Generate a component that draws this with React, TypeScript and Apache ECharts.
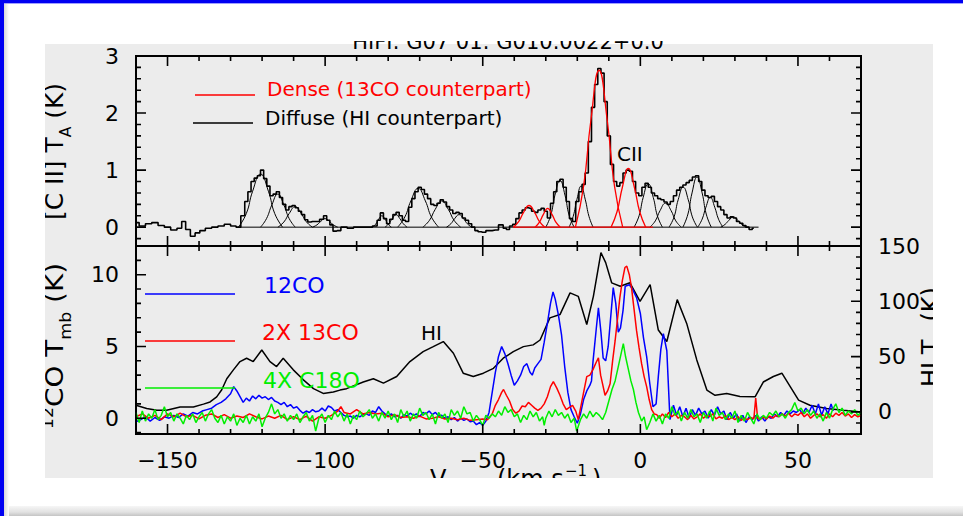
import React, { useEffect, useRef } from 'react';
import * as echarts from 'echarts';

const FONT = '"DejaVu Sans"';

// ---- ticks ----
const velMajorTicks = [-150, -100, -50, 0, 50];
const velMinorTicks = [-160, -150, -140, -130, -120, -110, -100, -90, -80, -70, -60, -50, -40, -30, -20, -10, 0, 10, 20, 30, 40, 50, 60, 70];
const ciiMajorTicks = [0, 1, 2, 3];
const ciiMinorTicks = [-0.2, 0, 0.2, 0.4, 0.6, 0.8, 1, 1.2, 1.4, 1.6, 1.8, 2, 2.2, 2.4, 2.6, 2.8, 3];
const coMajorTicks = [0, 5, 10];
const coMinorTicks = [-1, 0, 1, 2, 3, 4, 5, 6, 7, 8, 9, 10, 11, 12];
const hiMajorTicks = [0, 50, 100, 150];
const hiMinorTicks = [-20, -10, 0, 10, 20, 30, 40, 50, 60, 70, 80, 90, 100, 110, 120, 130, 140, 150];

// ---- [C II] spectrum (V, T_A) ----
const ciiSpectrum: [number, number][] = [
  [-160, 0.08], [-158, 0.02], [-156, 0.06], [-154, 0.08], [-152, 0.03], [-150, 0.0], [-148, -0.05], [-146, -0.02],
  [-145, 0.1], [-143.5, -0.04], [-142, -0.16], [-140.5, -0.1], [-139, -0.06], [-137, -0.02], [-135, 0.0], [-133, 0.02],
  [-131, 0.05], [-129, 0.02], [-127.5, 0.0], [-126, 0.2], [-125, 0.45], [-124, 0.62], [-123, 0.8], [-122, 0.86],
  [-121, 0.9], [-120, 1.0], [-119, 0.85], [-118, 0.72], [-117, 0.55], [-116, 0.58], [-115, 0.62], [-114, 0.52],
  [-113, 0.4], [-112, 0.3], [-111, 0.36], [-110, 0.38], [-109, 0.34], [-108, 0.28], [-107, 0.22], [-106, 0.13],
  [-105, 0.09], [-104, 0.1], [-102.5, 0.1], [-101, 0.14], [-100, 0.2], [-99, 0.12], [-98, 0.04], [-97, -0.07],
  [-96, -0.06], [-94, 0.0], [-92, -0.02], [-90, 0.0], [-88, 0.0], [-86, 0.0], [-84, 0.02], [-83, 0.12], [-82, 0.25],
  [-81, 0.15], [-80, 0.06], [-79, 0.14], [-78, 0.22], [-77, 0.26], [-76, 0.2], [-75, 0.12], [-74, 0.1], [-73, 0.35],
  [-72, 0.5], [-71, 0.62], [-70, 0.7], [-69, 0.66], [-68, 0.58], [-67, 0.5], [-66, 0.4], [-65, 0.38], [-64, 0.42],
  [-63, 0.48], [-62, 0.44], [-61, 0.36], [-60, 0.3], [-59, 0.24], [-58, 0.26], [-57, 0.24], [-56, 0.16], [-55, 0.12],
  [-54, 0.06], [-53, 0.0], [-52, -0.06], [-51, -0.08], [-50, -0.09], [-48, -0.06], [-46, -0.05], [-44, 0.04],
  [-43, -0.02], [-42, -0.04], [-41, 0.02], [-40, 0.05], [-39, 0.15], [-38, 0.25], [-37, 0.3], [-36, 0.34], [-35, 0.33],
  [-34, 0.28], [-33, 0.26], [-32, 0.3], [-31, 0.33], [-30, 0.28], [-29, 0.16], [-28, 0.42], [-27, 0.62], [-26, 0.8],
  [-25, 0.84], [-24, 0.7], [-23, 0.45], [-22, 0.15], [-21, 0.1], [-20, 0.45], [-19, 0.62], [-18, 0.75], [-17, 0.95],
  [-16, 1.5], [-15, 2.1], [-14, 2.5], [-13, 2.78], [-12, 2.7], [-11, 2.2], [-10, 1.6], [-9, 1.1], [-8, 0.8], [-7, 0.72],
  [-6, 0.78], [-5, 0.95], [-4, 1.0], [-3, 0.98], [-2, 0.8], [-1, 0.6], [0, 0.55], [1, 0.7], [2, 0.77], [3, 0.7],
  [4, 0.6], [5, 0.55], [6, 0.5], [7, 0.48], [8, 0.44], [9, 0.4], [10, 0.45], [11, 0.55], [12, 0.65], [13, 0.7],
  [14, 0.74], [15, 0.78], [16, 0.82], [17, 0.88], [18, 0.9], [19, 0.8], [20, 0.65], [21, 0.55], [22, 0.52], [23, 0.54],
  [24, 0.45], [25, 0.36], [26, 0.3], [27, 0.22], [28, 0.16], [29, 0.18], [30, 0.16], [31, 0.1], [32, 0.07], [33, 0.03],
  [34, 0.0], [35, -0.04], [36, -0.02],
];

// ---- Gaussian components ----
const diffuseFits: [number, number][][] = [
  [[-127.5, 0], [-125, 0.24], [-123, 0.63], [-120.5, 0.93], [-118, 0.63], [-116, 0.24], [-113.5, 0]],
  [[-120.5, 0], [-118.6, 0.15], [-116.9, 0.39], [-115, 0.58], [-113.1, 0.39], [-111.4, 0.15], [-109.5, 0]],
  [[-115, 0], [-113.1, 0.09], [-111.4, 0.24], [-109.5, 0.36], [-107.6, 0.24], [-105.9, 0.09], [-104, 0]],
  [[-104, 0], [-102.6, 0.04], [-101.4, 0.1], [-100, 0.15], [-98.6, 0.1], [-97.4, 0.04], [-96, 0]],
  [[-85, 0], [-84, 0.05], [-83, 0.14], [-82, 0.2], [-81, 0.14], [-80, 0.05], [-79, 0]],
  [[-81, 0], [-79.8, 0.06], [-78.7, 0.15], [-77.5, 0.22], [-76.3, 0.15], [-75.2, 0.06], [-74, 0]],
  [[-77, 0], [-74.7, 0.18], [-72.8, 0.46], [-70.5, 0.68], [-68.2, 0.46], [-66.3, 0.18], [-64, 0]],
  [[-69, 0], [-66.9, 0.12], [-65.1, 0.31], [-63, 0.46], [-60.9, 0.31], [-59.1, 0.12], [-57, 0]],
  [[-61.5, 0], [-60.1, 0.06], [-58.9, 0.15], [-57.5, 0.22], [-56.1, 0.15], [-54.9, 0.06], [-53.5, 0]],
  [[-30, 0], [-28.4, 0.21], [-27.1, 0.56], [-25.5, 0.82], [-23.9, 0.56], [-22.6, 0.21], [-21, 0]],
  [[-22.6, 0], [-21.3, 0.19], [-20.1, 0.49], [-18.8, 0.72], [-17.5, 0.49], [-16.3, 0.19], [-15, 0]],
  [[-2, 0], [-0.4, 0.2], [0.9, 0.52], [2.5, 0.76], [4.1, 0.52], [5.4, 0.2], [7, 0]],
  [[3, 0], [4.75, 0.11], [6.25, 0.29], [8, 0.42], [9.75, 0.29], [11.25, 0.11], [13, 0]],
  [[9.1, 0], [10.7, 0.18], [12, 0.48], [13.6, 0.7], [15.2, 0.48], [16.5, 0.18], [18.1, 0]],
  [[13.5, 0], [15.1, 0.23], [16.4, 0.6], [18, 0.88], [19.6, 0.6], [20.9, 0.23], [22.5, 0]],
  [[18.2, 0], [19.6, 0.14], [20.8, 0.35], [22.2, 0.52], [23.6, 0.35], [24.8, 0.14], [26.2, 0]],
  [[25.5, 0], [26.9, 0.05], [28.1, 0.12], [29.5, 0.18], [30.9, 0.12], [32.1, 0.05], [33.5, 0]],
];
const denseFits: [number, number][][] = [
  [[-40.3, 0], [-38.55, 0.1], [-37.05, 0.26], [-35.3, 0.38], [-33.55, 0.26], [-32.05, 0.1], [-30.3, 0]],
  [[-33.4, 0], [-32, 0.09], [-30.8, 0.22], [-29.4, 0.33], [-28, 0.22], [-26.8, 0.09], [-25.4, 0]],
  [[-20.6, 0], [-18, 0.72], [-15.7, 1.87], [-13.1, 2.75], [-10.5, 1.87], [-8.2, 0.72], [-5.6, 0]],
  [[-9.3, 0], [-7.4, 0.27], [-5.7, 0.7], [-3.8, 1.03], [-1.9, 0.7], [-0.2, 0.27], [1.7, 0]],
];
const diffuseBaseline: [number, number][] = [[-127.5, 0], [37.5, 0]];
const denseBaseline: [number, number][] = [[-40.3, 0], [4, 0]];

// ---- HI brightness temperature (right axis) ----
const hiSpectrum: [number, number][] = [
  [-160, 6], [-156.6, 3], [-153.4, 1.5], [-150.3, 1.5], [-146, 4.5], [-141.8, 4.5], [-138.6, 7], [-136.5, 9],
  [-134.4, 13.6], [-132.8, 20], [-131.2, 30], [-129.1, 38], [-127, 45.5], [-124.9, 48.5], [-122.8, 45.5],
  [-120.1, 56], [-117.5, 45.5], [-115.4, 41], [-113.3, 48.5], [-110.1, 38], [-106.9, 29], [-103.7, 21],
  [-100.6, 16.7], [-97.4, 18], [-95.3, 19.7], [-93.2, 21], [-87.9, 27], [-84.7, 30], [-81.5, 26], [-77.3, 32],
  [-73.1, 45.5], [-68.9, 54.5], [-65.7, 59], [-62.5, 63.6], [-59.3, 53], [-56.2, 35], [-53, 32], [-49.8, 35],
  [-46.6, 39.4], [-43.5, 48.5], [-40.3, 54.5], [-37.1, 59], [-34, 60.6], [-31.8, 65], [-28.7, 85], [-25.5, 88],
  [-22.3, 107.6], [-19.7, 104.5], [-17, 79], [-14.9, 104.5], [-12.5, 144], [-11, 135], [-9.1, 116.7],
  [-6.4, 113.6], [-3.3, 116.7], [-0.1, 100], [3.1, 115], [5.7, 74], [8.4, 63.6], [11.7, 101.5], [14.7, 80],
  [17.9, 47], [21.1, 19.7], [23.7, 15], [27.4, 16.7], [31.6, 14], [36.4, 13.6], [39, 27], [42.2, 32], [44.9, 35],
  [47.5, 23], [50.2, 10.6], [53.8, 6], [59.1, 3], [64.4, 1.5], [70, 0],
];

// ---- 12CO ----
const co12: [number, number][] = [
  [-160, -0.25], [-158.5, -0.1], [-157, 0.1], [-155.5, -0.2], [-154, 0.05], [-152.5, -0.15], [-151, 0.1], [-149.5, 0.0],
  [-148, 0.2], [-146.5, 0.05], [-145, 0.3], [-143.5, 0.15], [-142, 0.4], [-140.5, 0.3], [-139, 0.5], [-137.5, 0.6],
  [-136, 0.7], [-134.5, 0.95], [-133, 1.1], [-131.5, 1.35], [-130, 1.7], [-129, 2.2], [-128, 1.9], [-127, 1.5],
  [-126, 1.1], [-125, 1.4], [-124, 1.2], [-123, 1.55], [-122, 1.35], [-121, 1.6], [-120, 1.4], [-119, 1.5], [-118, 1.3],
  [-117, 1.45], [-116, 1.2], [-115, 1.1], [-114, 0.95], [-113, 1.1], [-112, 0.8], [-111, 0.95], [-110, 0.7], [-109, 0.8],
  [-108, 0.55], [-107, 0.35], [-106, 0.5], [-105, 0.4], [-104, 0.6], [-103, 0.45], [-102, 0.5], [-101, 0.7], [-100, 0.5],
  [-99, 0.85], [-98, 0.75], [-97, 0.5], [-96, 0.6], [-95, 0.4], [-94, 0.2], [-93, 0.1], [-92, 0.15], [-91, 0.0],
  [-90, 0.2], [-89, 0.1], [-88, 0.25], [-87, 0.3], [-86, 0.2], [-85, 0.5], [-84, 0.4], [-83, 0.8], [-82, 0.5], [-81, 0.3],
  [-80, 0.15], [-79, 0.3], [-78, 0.1], [-77, 0.2], [-76, 0.0], [-75, 0.25], [-74, 0.15], [-73, 0.35], [-72, 0.2],
  [-71, 0.3], [-70, 0.1], [-69, 0.4], [-68, 0.3], [-67, 0.5], [-66, 0.25], [-65, 0.4], [-64, 0.15], [-63, 0.2],
  [-62, 0.0], [-61, 0.1], [-60, -0.1], [-59, 0.05], [-58, -0.2], [-57, 0.0], [-56, -0.15], [-55, -0.05], [-54, -0.25],
  [-53, -0.2], [-52, -0.45], [-51, -0.3], [-50, -0.5], [-49, -0.2], [-48, 0.4], [-47, 1.8], [-46, 3.2], [-45, 4.3],
  [-44, 5.0], [-43, 4.5], [-42, 3.8], [-41, 3.0], [-40, 2.3], [-39, 2.6], [-38, 3.0], [-37, 3.6], [-36, 3.8], [-35, 3.2],
  [-34.3, 3.0], [-33.5, 3.5], [-32.5, 3.8], [-31.5, 4.1], [-30.5, 5.3], [-29.5, 6.6], [-28.5, 8.0], [-27.7, 8.8],
  [-27, 8.3], [-26, 7.2], [-25, 5.8], [-24, 3.6], [-23, 1.8], [-22, 0.6], [-21, 0.1], [-20, -0.35], [-19, 0.3],
  [-18, 1.3], [-17, 1.9], [-16, 2.3], [-15.5, 2.6], [-15, 4.0], [-14, 6.2], [-13.3, 7.7], [-12.5, 6.0], [-11.8, 4.2],
  [-11, 4.0], [-10.2, 5.0], [-9.5, 6.8], [-8.6, 9.1], [-7.8, 8.0], [-7, 6.0], [-6.3, 6.3], [-5.5, 7.5], [-4.8, 9.2],
  [-3.5, 9.3], [-2.5, 9.0], [-1.2, 8.4], [0, 7.3], [1, 5.6], [2, 4.3], [3, 2.4], [4, 0.8], [5, 1.0], [5.7, 2.9],
  [6.5, 4.8], [7.3, 5.9], [8.4, 4.7], [9.4, -0.1], [10.5, 0.9], [11.5, 0.2], [12.5, 0.8], [13.5, 0.1], [14.5, 0.7],
  [15.5, 0.0], [16.5, 0.6], [17.5, 0.2], [18.5, 0.7], [19.5, 0.3], [20.5, 0.5], [21.5, 0.0], [22.5, 0.6], [23.5, 0.2],
  [24.5, 0.8], [25.5, 0.3], [26.5, 0.5], [27.5, -0.1], [28.5, 0.4], [29.5, 0.0], [30.5, 0.3], [31.5, -0.2], [32.5, 0.2],
  [33.5, -0.3], [34.5, 0.1], [35.5, -0.1], [36.5, 0.2], [37.5, -0.2], [38.5, 0.1], [39.5, -0.2], [40.5, 0.1],
  [41.5, 0.0], [42.5, 0.3], [43.5, 0.1], [44.5, 0.4], [45.5, 0.2], [46.5, 0.5], [47.5, 0.3], [48.5, 0.5], [49.5, 0.4],
  [50.5, 0.6], [51.5, 0.3], [52.5, 0.7], [53.5, 0.4], [54.5, 0.9], [55.5, 0.3], [56.5, 1.0], [57.5, 0.2], [58.5, 0.8],
  [59.5, 0.3], [60.5, 1.0], [61.2, 0.5],
];

// ---- 2 x 13CO ----
const co13x2: [number, number][] = [
  [-160, 0.1], [-158, 0.3], [-156, 0.0], [-154, 0.2], [-152, -0.1], [-150, 0.3], [-148, 0.1], [-146, 0.35], [-144, 0.1],
  [-142, 0.2], [-140, -0.05], [-138, 0.2], [-136, 0.3], [-134, 0.05], [-132, 0.25], [-130, 0.0], [-128, 0.15],
  [-126, 0.05], [-124, 0.3], [-122, 0.1], [-120, -0.05], [-118, 0.15], [-116, 0.0], [-114, 0.2], [-112, -0.1],
  [-110, 0.1], [-108, -0.1], [-106, 0.15], [-104, -0.2], [-102, 0.1], [-100, 0.0], [-98, 0.2], [-96, 0.5], [-95, 0.8],
  [-94, 0.4], [-92, 0.3], [-90, 0.6], [-88, 0.3], [-86, 0.4], [-84, 0.3], [-82, 0.35], [-80, 0.1], [-78, 0.25],
  [-76, 0.05], [-74, 0.1], [-72, 0.0], [-70, 0.15], [-68, -0.05], [-66, 0.0], [-64, 0.1], [-62, -0.05], [-60, 0.0],
  [-58, -0.1], [-56, 0.0], [-54, -0.15], [-52, -0.1], [-50, -0.05], [-48.5, -0.1], [-47, 0.3], [-46, 0.9], [-45, 1.3],
  [-44, 1.8], [-43.4, 2.0], [-42.5, 1.6], [-41.5, 1.2], [-40.5, 0.6], [-39.5, 0.35], [-38.5, 0.5], [-37.5, 0.85],
  [-36.5, 0.8], [-35.5, 1.1], [-34.5, 0.9], [-33.5, 0.7], [-32.5, 0.55], [-31.5, 0.7], [-30.5, 1.0], [-29.5, 1.5],
  [-28.5, 2.2], [-27.6, 2.55], [-26.5, 2.1], [-25.5, 1.6], [-24.5, 1.0], [-23.5, 0.6], [-22.5, 0.75], [-21.5, 0.9],
  [-20.5, 0.5], [-19.7, -0.1], [-18.8, 0.9], [-18, 1.8], [-17, 2.9], [-16, 3.0], [-15, 3.4], [-14, 3.9], [-13.3, 4.2],
  [-12.6, 3.0], [-11.9, 2.3], [-11.2, 1.6], [-10.4, 1.9], [-9.6, 2.4], [-8.8, 4.0], [-8, 5.4], [-7.2, 7.0], [-6.5, 8.4],
  [-5.7, 9.6], [-4.9, 10.5], [-4.3, 10.6], [-3.5, 10.0], [-2.8, 9.1], [-2, 7.6], [-1.2, 6.1], [-0.4, 4.9], [0.4, 3.8],
  [1.2, 2.9], [2, 2.2], [2.8, 1.3], [3.6, 0.6], [4.4, 0.3], [5.2, 0.25], [6, 0.0], [7, 0.3], [8, 0.05], [9, 0.4],
  [10, 0.1], [11, 0.3], [12, 0.0], [13, 0.2], [14, 0.1], [15, -0.1], [16, 0.2], [17, -0.05], [18, 0.1], [19, 0.3],
  [20, 0.0], [21, 0.2], [22, 0.1], [23, 0.3], [24, -0.05], [25, 0.1], [26, 0.0], [27, 0.2], [28, -0.1], [29, 0.05],
  [30, -0.1], [31, 0.1], [32, -0.15], [33, 0.0], [34, -0.1], [35, 0.05], [36, -0.05], [36.6, 1.4], [37.2, 0.0],
  [38, -0.1], [39, 0.1], [40, -0.05], [41, 0.15], [42, 0.0], [43, 0.2], [44, 0.1], [45, 0.3], [46, 0.15], [47, 0.35],
  [48, 0.1], [49, 0.3], [50, 0.2], [51, 0.4], [52, 0.1], [53, 0.3], [54, 0.0], [55, 0.2], [56, 0.3], [57, 0.1],
  [58, 0.25], [59, 0.0], [60, 0.3], [61, 0.1], [62, 0.35], [63, 0.2], [64, 0.4], [65, 0.15], [66, 0.3], [67, 0.05],
  [68, 0.25], [69, 0.1], [70, 0.2],
];

// ---- 4 x C18O ----
const c18ox4: [number, number][] = [
  [-160, 0.4], [-159, -0.3], [-158, 0.5], [-157, -0.2], [-156, 0.3], [-155, 0.0], [-154, 0.6], [-153, -0.1], [-152, 0.2],
  [-151, 0.8], [-150, 0.1], [-149, 0.4], [-148, -0.2], [-147, 0.3], [-146, 0.0], [-145, -0.4], [-144, 0.2], [-143, -0.1],
  [-142, 0.3], [-141, -0.3], [-140, 0.1], [-139, 0.4], [-138, -0.2], [-137, 0.3], [-136, 0.6], [-135, 0.0], [-134, -0.3],
  [-133, 0.2], [-132, -0.4], [-131, 0.1], [-130, -0.2], [-129, 0.3], [-128, -0.5], [-127, 0.0], [-126, -0.3], [-125, 0.2],
  [-124, -0.4], [-123, 0.1], [-122, -0.2], [-121, 0.3], [-120, -0.6], [-119, 0.0], [-118, 0.4], [-117, 1.0], [-116, 0.3],
  [-115, 0.6], [-114, 0.0], [-113, 0.3], [-112, -0.2], [-111, 0.2], [-110, -0.1], [-109, 0.3], [-108, -0.3], [-107, 0.1],
  [-106, 0.4], [-105, -0.2], [-104, 0.2], [-103, -0.9], [-102, 0.0], [-101, 0.3], [-100, -0.3], [-99, 0.2], [-98, -0.1],
  [-97, 0.5], [-96, 0.1], [-95, 0.4], [-94, -0.2], [-93, 0.3], [-92, -0.4], [-91, 0.2], [-90, -0.1], [-89, 0.5],
  [-88, 0.1], [-87, 0.3], [-86, 0.6], [-85, 0.0], [-84, 0.3], [-83, -0.2], [-82, 0.4], [-81, 0.0], [-80, 0.5], [-79, -0.1],
  [-78, 0.3], [-77, -0.3], [-76, 0.6], [-75, 0.1], [-74, 0.5], [-73, -0.2], [-72, 0.3], [-71, 0.0], [-70, 0.7], [-69, 0.2],
  [-68, 0.4], [-67, -0.1], [-66, 0.3], [-65, -0.4], [-64, 0.4], [-63, 0.0], [-62, 0.3], [-61, -0.3], [-60, 0.6], [-59, 0.2],
  [-58, 0.5], [-57, 0.0], [-56, 0.8], [-55, 0.3], [-54, 0.4], [-53, -0.2], [-52, 0.2], [-51, -0.1], [-50, -0.5], [-49, 0.2],
  [-48, 0.0], [-47, 0.3], [-46, 0.1], [-45, 0.5], [-44, 0.2], [-43, 0.8], [-42, 0.4], [-41, 0.6], [-40, 0.1], [-39, 0.3],
  [-38, -0.3], [-37, 0.2], [-36, -0.1], [-35, 0.5], [-34, 0.1], [-33, 0.4], [-32, -0.2], [-31, 0.1], [-30.5, -0.5],
  [-30, 0.0], [-29, 0.5], [-28, 0.1], [-27, 0.6], [-26, 0.2], [-25, 0.4], [-24, 0.0], [-23, 0.3], [-22, -0.3], [-21, 0.0],
  [-20.2, -0.9], [-19, -0.1], [-18, 0.3], [-17, 0.0], [-16, 0.5], [-15, 0.1], [-14, 0.4], [-13, 0.2], [-12, -0.1],
  [-11, 0.4], [-10, 1.2], [-9, 2.0], [-8, 2.6], [-7, 3.6], [-6, 4.6], [-5.4, 5.2], [-4.7, 4.3], [-3.8, 3.4], [-3, 2.6],
  [-2.2, 2.0], [-1.4, 1.1], [-0.6, 0.4], [0.4, -0.2], [1.2, 0.1], [2, -0.8], [3, -0.3], [4, 0.3], [5, -0.2], [6, 0.2],
  [7, -0.4], [8, 0.3], [9, 0.0], [10, 0.8], [11, 0.2], [12, 0.5], [13, -0.2], [14, 0.4], [15, 0.0], [16, 0.6], [17, 0.1],
  [18, 0.3], [19, -0.3], [20, 0.4], [21, 0.0], [22, 0.5], [23, -0.2], [24, 0.7], [25, 0.2], [26, 0.4], [27, -0.1],
  [28, 0.3], [29, 0.0], [30, 0.5], [31, -0.3], [32, 0.2], [33, -0.2], [34, 0.4], [35, 0.0], [36, -0.4], [37, 0.3],
  [38, -0.1], [39, 0.2], [40, 0.0], [41, 0.4], [42, 0.2], [43, 0.5], [44, 0.1], [45, 0.3], [46, 0.0], [47, 0.4],
  [48, 0.6], [49, 1.1], [50, 0.5], [51, 0.7], [52, 0.3], [53, 0.6], [54, 0.2], [55, 0.5], [56, 0.0], [57, 0.3],
  [58, -0.2], [59, 0.4], [60, 0.0], [61, 0.6], [62, 1.0], [63, 0.4], [64, 0.7], [65, 0.2], [66, 0.5], [67, 0.3],
  [68, 0.6], [69, 0.2], [70, 0.4],
];

const TITLE = 'HIFI: G07 01: G010.0022+0.0';

// axis ranges and panel layout
const VMIN = -160, VMAX = 70;
const CII_MIN = -0.33, CII_MAX = 3;
const CO_MIN = -1.1, CO_MAX = 12;
const HI_MIN = -20, HI_MAX = 150;
const PLOT_LEFT = 136, PLOT_WIDTH = 725;
const TOP_Y = 56, TOP_H = 190, BOT_Y = 246, BOT_H = 188;

let measureCtx: CanvasRenderingContext2D | null = null;
function tw(t: string, fs: number): number {
  try {
    if (!measureCtx) measureCtx = document.createElement('canvas').getContext('2d');
    if (!measureCtx) return t.length * fs * 0.6;
    measureCtx.font = `${fs}px ${FONT}`;
    return measureCtx.measureText(t).width;
  } catch (e) {
    return t.length * fs * 0.6;
  }
}

type Piece = { t: string; fs: number; dy: number };
function rotatedTitle(x: number, y: number, pieces: Piece[], anchor: number, target: number) {
  const widths = pieces.map((p) => tw(p.t, p.fs));
  const starts: number[] = [];
  let pos = 0;
  widths.forEach((w) => { starts.push(pos); pos += w; });
  const shift = starts[anchor];
  const sx = target / (pos - shift);
  return {
    type: 'group', x, y, rotation: Math.PI / 2, scaleX: sx, z: 20,
    children: pieces.map((p, i) => ({
      type: 'text', z: 20, x: starts[i] - shift, y: p.dy - 0.35 * p.fs,
      style: { text: p.t, font: `${p.fs}px ${FONT}`, fill: '#000', textAlign: 'left', textVerticalAlign: 'middle' },
    })),
  };
}

function txt(x: number, y: number, t: string, fs: number, color: string, align = 'left') {
  return {
    type: 'text', x, y, z: 20,
    style: { text: t, font: `${fs}px ${FONT}`, fill: color, textAlign: align, textVerticalAlign: 'middle' },
  };
}
function seg(x1: number, y1: number, x2: number, y2: number, color: string, w = 1.5) {
  return { type: 'line', z: 20, shape: { x1, y1, x2, y2 }, style: { stroke: color, lineWidth: w } };
}
function comb(points: number[][]) {
  return { type: 'polyline', z: 200, silent: true, shape: { points }, style: { stroke: '#000', lineWidth: 1.6, fill: null } };
}

const minus = (v: number) => String(v).replace('-', '\u2212');

function xAxisDef(grid: number, labels: boolean) {
  return {
    type: 'value', gridIndex: grid, position: 'bottom', min: VMIN, max: VMAX,
    axisLine: { show: false, onZero: false }, splitLine: { show: false }, axisTick: { show: false },
    axisLabel: labels
      ? { show: true, customValues: velMajorTicks, formatter: minus, margin: 15, color: '#000', fontSize: 22, fontFamily: FONT }
      : { show: false },
  };
}
function yAxisDef(grid: number, position: string, min: number, max: number, labels: number[]) {
  return {
    type: 'value', gridIndex: grid, position, min, max,
    axisLine: { show: false, onZero: false }, splitLine: { show: false }, axisTick: { show: false },
    axisLabel: { show: true, customValues: labels, formatter: minus, margin: 17, color: '#000', fontSize: 22, fontFamily: FONT },
  };
}

export default function App() {
  const ref = useRef<HTMLDivElement>(null);
  useEffect(() => {
    if (!ref.current) return;
    const chart = echarts.init(ref.current, null, { renderer: 'svg' });
    const lineBase = { type: 'line', showSymbol: false, symbol: 'none', silent: true };
    const series: any[] = [
      { ...lineBase, name: '[C II]', xAxisIndex: 0, yAxisIndex: 0, data: ciiSpectrum, step: 'middle', lineStyle: { color: '#000', width: 1.6 }, z: 2 },
      { ...lineBase, name: 'Diffuse baseline', xAxisIndex: 0, yAxisIndex: 0, data: diffuseBaseline, lineStyle: { color: '#000', width: 1 }, z: 3 },
      ...diffuseFits.map((d, i) => ({ ...lineBase, name: `Diffuse ${i + 1}`, xAxisIndex: 0, yAxisIndex: 0, data: d, smooth: 0.5, lineStyle: { color: '#000', width: 1 }, z: 3 })),
      { ...lineBase, name: 'Dense baseline', xAxisIndex: 0, yAxisIndex: 0, data: denseBaseline, lineStyle: { color: '#ff0000', width: 1.2 }, z: 4 },
      ...denseFits.map((d, i) => ({ ...lineBase, name: `Dense ${i + 1}`, xAxisIndex: 0, yAxisIndex: 0, data: d, smooth: 0.5, lineStyle: { color: '#ff0000', width: 1.3 }, z: 4 })),
      { ...lineBase, name: 'HI', xAxisIndex: 1, yAxisIndex: 2, data: hiSpectrum, lineStyle: { color: '#000', width: 1.5 }, z: 2 },
      { ...lineBase, name: '12CO', xAxisIndex: 1, yAxisIndex: 1, data: co12, lineStyle: { color: '#0000ff', width: 1.5 }, z: 3 },
      { ...lineBase, name: '2X 13CO', xAxisIndex: 1, yAxisIndex: 1, data: co13x2, lineStyle: { color: '#ff0000', width: 1.5 }, z: 4 },
      { ...lineBase, name: '4X C18O', xAxisIndex: 1, yAxisIndex: 1, data: c18ox4, lineStyle: { color: '#00ee00', width: 1.5 }, z: 5 },
    ];

    // --- frame tick combs (IDL style, pointing inward), one polyline per frame edge ---
    const linX = (v: number) => PLOT_LEFT + ((v - VMIN) / (VMAX - VMIN)) * PLOT_WIDTH;
    const linY = (v: number, lo: number, hi: number, top: number, h: number) => top + ((hi - v) / (hi - lo)) * h;
    const hComb = (yEdge: number, dir: number) => {
      const pts: number[][] = [];
      velMinorTicks.forEach((v) => {
        const len = velMajorTicks.includes(v) ? 10 : 5;
        const x = linX(v);
        pts.push([x, yEdge], [x, yEdge + dir * len], [x, yEdge]);
      });
      return comb(pts);
    };
    const vComb = (minor: number[], major: number[], lo: number, hi: number, top: number, h: number, xEdge: number, dir: number) => {
      const pts: number[][] = [];
      minor.forEach((val) => {
        const len = major.includes(val) ? 10 : 5;
        const y = linY(val, lo, hi, top, h);
        pts.push([xEdge, y], [xEdge + dir * len, y], [xEdge, y]);
      });
      return comb(pts);
    };
    const RIGHT = PLOT_LEFT + PLOT_WIDTH;
    const combs = [
      hComb(TOP_Y, 1), hComb(TOP_Y + TOP_H, -1),
      hComb(BOT_Y, 1), hComb(BOT_Y + BOT_H, -1),
      vComb(ciiMinorTicks, ciiMajorTicks, CII_MIN, CII_MAX, TOP_Y, TOP_H, PLOT_LEFT, 1),
      vComb(ciiMinorTicks, ciiMajorTicks, CII_MIN, CII_MAX, TOP_Y, TOP_H, RIGHT, -1),
      vComb(coMinorTicks, coMajorTicks, CO_MIN, CO_MAX, BOT_Y, BOT_H, PLOT_LEFT, 1),
      vComb(hiMinorTicks, hiMajorTicks, HI_MIN, HI_MAX, BOT_Y, BOT_H, RIGHT, -1),
    ];

    const graphics: any[] = [
      { type: 'rect', z: -10, shape: { x: 45, y: 44, width: 888, height: 434 }, style: { fill: '#ececec' } },
      // legends
      seg(195, 95, 255, 95, '#ff0000'),
      txt(267, 89, 'Dense (13CO counterpart)', 20, '#ff0000'),
      seg(193, 123, 253, 123, '#000'),
      txt(265, 118, 'Diffuse (HI counterpart)', 20, '#000'),
      txt(617, 154, 'CII', 20, '#000'),
      seg(145, 294, 235, 294, '#0000ff'),
      txt(264, 285, '12CO', 22, '#0000ff'),
      seg(145, 341, 235, 341, '#ff0000'),
      txt(262, 332, '2X 13CO', 22, '#ff0000'),
      seg(145, 388, 235, 388, '#00ee00'),
      txt(263, 380, '4X C18O', 22, '#00ee00'),
      txt(421, 333, 'HI', 20, '#000'),
      // title (clipped at top)
      { type: 'text', x: 508, y: 52.5, z: 20, style: { text: TITLE, font: `21px ${FONT}`, fill: '#000', textAlign: 'center', textVerticalAlign: 'bottom' } },
      // axis titles
      rotatedTitle(63, 220, [{ t: '[C II] T', fs: 24, dy: 0 }, { t: 'A', fs: 15, dy: 8 }, { t: ' (K)', fs: 24, dy: 0 }], 0, 137),
      rotatedTitle(63, 407, [{ t: '12', fs: 15, dy: -10 }, { t: 'CO T', fs: 24, dy: 0 }, { t: 'mb', fs: 15, dy: 8 }, { t: ' (K)', fs: 24, dy: 0 }], 1, 144),
      rotatedTitle(939, 387, [{ t: 'HI T', fs: 24, dy: 0 }, { t: 'B', fs: 15, dy: 8 }, { t: ' (K)', fs: 24, dy: 0 }], 0, 100),
      { type: 'text', x: 430, y: 487 - 0.35 * 24, z: 20, style: { text: 'V', font: `24px ${FONT}`, fill: '#000', textAlign: 'left', textVerticalAlign: 'middle' } },
      { type: 'text', x: 447, y: 494 - 0.35 * 15, z: 20, style: { text: 'LSR', font: `15px ${FONT}`, fill: '#000', textAlign: 'left', textVerticalAlign: 'middle' } },
      { type: 'text', x: 497, y: 487 - 0.35 * 24, z: 20, style: { text: '(km s', font: `24px ${FONT}`, fill: '#000', textAlign: 'left', textVerticalAlign: 'middle' } },
      { type: 'text', x: 565, y: 476 - 0.35 * 15, z: 20, style: { text: '\u22121', font: `15px ${FONT}`, fill: '#000', textAlign: 'left', textVerticalAlign: 'middle' } },
      { type: 'text', x: 592, y: 487 - 0.35 * 24, z: 20, style: { text: ')', font: `24px ${FONT}`, fill: '#000', textAlign: 'left', textVerticalAlign: 'middle' } },
      // masks (image crop)
      { type: 'rect', z: 100, shape: { x: 0, y: 0, width: 963, height: 41 }, style: { fill: '#ffffff' } },
      { type: 'rect', z: 100, shape: { x: 0, y: 0, width: 45, height: 516 }, style: { fill: '#ffffff' } },
      { type: 'rect', z: 100, shape: { x: 933, y: 0, width: 30, height: 516 }, style: { fill: '#ffffff' } },
      { type: 'rect', z: 100, shape: { x: 0, y: 478, width: 963, height: 38 }, style: { fill: '#ffffff' } },
      // window frame
      {
        type: 'rect', z: 105, shape: { x: 4, y: 506, width: 959, height: 10 },
        style: { fill: new echarts.graphic.LinearGradient(0, 0, 0, 1, [{ offset: 0, color: '#f6f6f6' }, { offset: 0.6, color: '#e2e2e2' }, { offset: 1, color: '#c4c4c4' }]) },
      },
      {
        type: 'rect', z: 105, shape: { x: 4, y: 3, width: 5, height: 513 },
        style: { fill: new echarts.graphic.LinearGradient(0, 0, 1, 0, [{ offset: 0, color: '#d8d8d8' }, { offset: 1, color: '#ffffff' }]) },
      },
      { type: 'rect', z: 110, shape: { x: 0, y: 0, width: 963, height: 3 }, style: { fill: '#0000f2' } },
      { type: 'rect', z: 110, shape: { x: 0, y: 3, width: 963, height: 1 }, style: { fill: '#a0a0ff' } },
      { type: 'rect', z: 110, shape: { x: 0, y: 0, width: 4, height: 516 }, style: { fill: '#0000f2' } },
      ...combs,
    ];

    chart.setOption({
      animation: false,
      backgroundColor: '#ffffff',
      grid: [
        { left: PLOT_LEFT, top: TOP_Y, width: PLOT_WIDTH, height: TOP_H, show: true, borderColor: '#000', borderWidth: 2, backgroundColor: 'transparent' },
        { left: PLOT_LEFT, top: BOT_Y, width: PLOT_WIDTH, height: BOT_H, show: true, borderColor: '#000', borderWidth: 2, backgroundColor: 'transparent' },
      ],
      xAxis: [xAxisDef(0, false), xAxisDef(1, true)],
      yAxis: [
        yAxisDef(0, 'left', CII_MIN, CII_MAX, ciiMajorTicks),
        yAxisDef(1, 'left', CO_MIN, CO_MAX, coMajorTicks),
        yAxisDef(1, 'right', HI_MIN, HI_MAX, hiMajorTicks),
      ],
      series,
      graphic: graphics,
    });

    return () => chart.dispose();
  }, []);
  return <div ref={ref} style={{ position: 'fixed', left: 0, top: 0, width: 963, height: 516 }} />;
}
